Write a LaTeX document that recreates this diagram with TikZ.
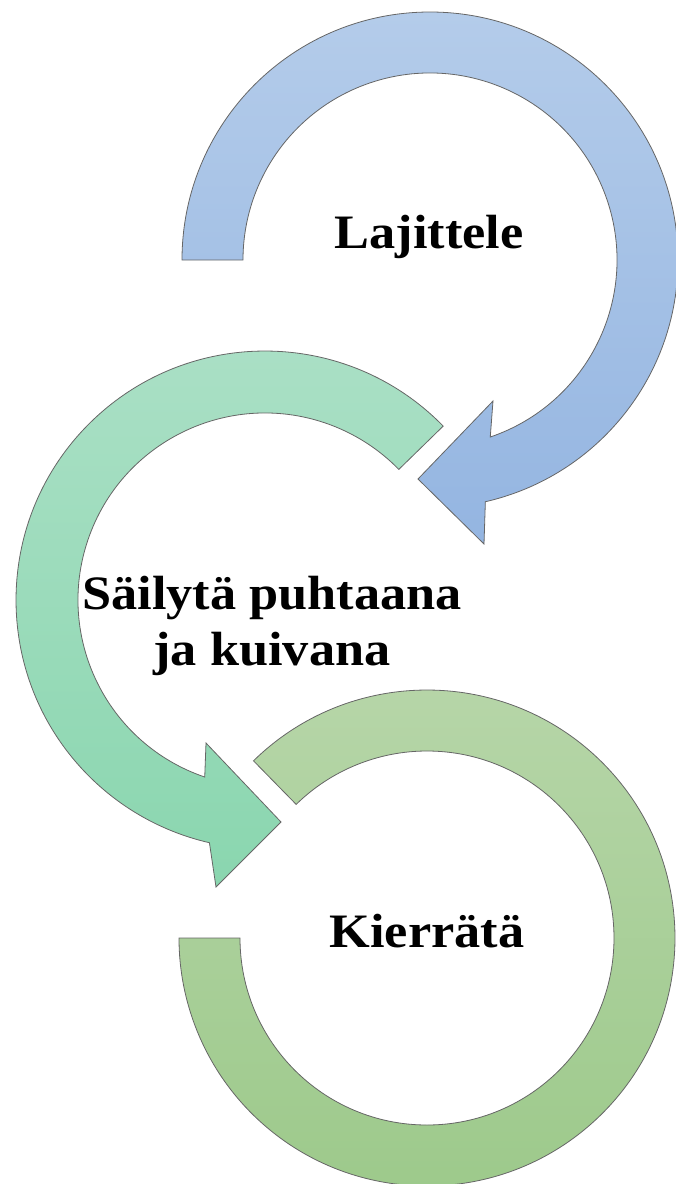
\documentclass[tikz,border=0pt]{standalone}
\usepackage{fontspec}
\newfontfamily\labfont{Liberation Serif}[FakeStretch=1.09]
\usetikzlibrary{calc}
\definecolor{bluetop}{HTML}{B4CCEA}
\definecolor{bluebot}{HTML}{94B5E1}
\definecolor{tealtop}{HTML}{ABE0C6}
\definecolor{tealbot}{HTML}{8AD6AF}
\definecolor{greentop}{HTML}{B7D6A9}
\definecolor{greenbot}{HTML}{9CC98A}
\tikzset{
  band/.style={draw=black!60, line width=0.8pt, line join=miter},
  lab/.style={font=\labfont\bfseries\fontsize{48}{56}\selectfont, text=black, align=center, inner sep=0pt}
}
\begin{document}
\begin{tikzpicture}[x=1pt,y=1pt]
\useasboundingbox (0,0) rectangle (676,-1184);
\clip (0,0) rectangle (676,-1184);
\coordinate (c1) at (430,-260);
\coordinate (c2) at (265,-600);
\coordinate (c3) at (427,-938);
% blue arrow
\path[band, top color=bluetop, bottom color=bluebot]
  ($(c1)+(180:248)$) arc[start angle=180, end angle=-77.1, radius=248]
  -- (484,-544) -- (418,-479) -- (493,-401)
  -- ($(c1)+(-71.2:187)$) arc[start angle=-71.2, end angle=180, radius=187] -- cycle;
% teal arrow
\path[band, top color=tealtop, bottom color=tealbot]
  ($(c2)+(44.3:249)$) arc[start angle=44.3, end angle=257.1, radius=249]
  -- (216,-887) -- (281,-822) -- (206,-743)
  -- ($(c2)+(251.2:187)$) arc[start angle=251.2, end angle=44.3, radius=187] -- cycle;
% green band
\path[band, top color=greentop, bottom color=greenbot]
  ($(c3)+(134.4:248)$) arc[start angle=134.4, end angle=-180, radius=248]
  -- ($(c3)+(-180:187)$) arc[start angle=-180, end angle=134.4, radius=187] -- cycle;
\node[lab, anchor=base] (t1) at (429,-248) {Lajittele};
\node[lab, anchor=base] (t2) at (272,-665) {Säilytä puhtaana\\ja kuivana};
\node[lab, anchor=base] (t3) at (427,-947) {Kierrätä};
\end{tikzpicture}
\end{document}
